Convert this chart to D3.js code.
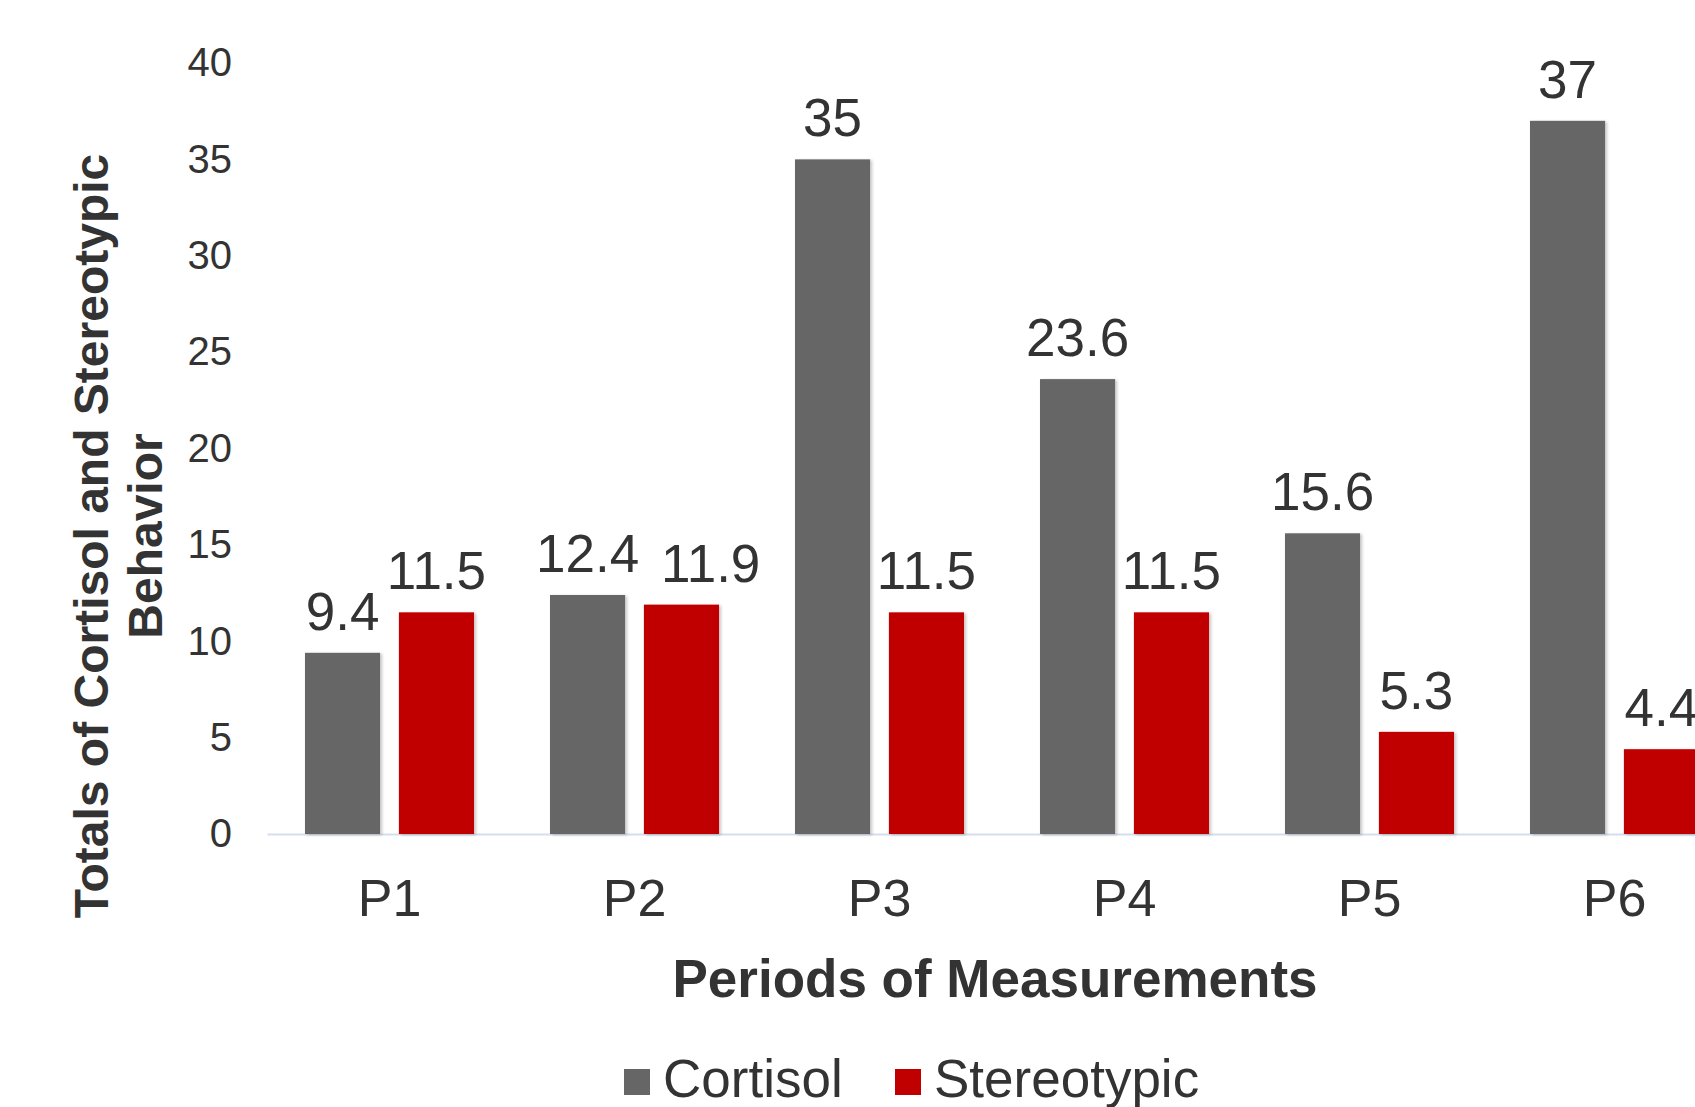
<!DOCTYPE html>
<html>
<head>
<meta charset="utf-8">
<script src="https://cdn.jsdelivr.net/npm/d3@7"></script>
<style>
  body { margin: 0; overflow: hidden; background: #fff; }
  text { font-family: "Liberation Sans", Arial, sans-serif; fill: #333; }
</style>
</head>
<body>
<script>
var periods = ["P1", "P2", "P3", "P4", "P5", "P6"];
var seriesNames = ["Cortisol", "Stereotypic"];
var cortisol = [9.4, 12.4, 35, 23.6, 15.6, 37];
var stereotypic = [11.5, 11.9, 11.5, 11.5, 5.3, 4.4];
var yTicks = [0, 5, 10, 15, 20, 25, 30, 35, 40];

var w = 1695;
var h = 1107;

// the plot runs past the right edge of the picture, as in the original
var margin = {top: 63, left: 267, bottom: 273},
    width = 1470,
    height = h - margin.top - margin.bottom;

var x0 = d3.scaleBand()
    .domain(periods)
    .range([0, width])
    .paddingInner(0.31)
    .paddingOuter(0.155);

var x1 = d3.scaleBand()
    .domain(seriesNames)
    .range([0, x0.bandwidth()])
    .paddingInner(0.2);

var y = d3.scaleLinear()
    .domain([0, 40])
    .range([height, 0]);

var z = d3.scaleOrdinal()
    .domain(seriesNames)
    .range(["#666666", "#c00000"]);

var data = periods.map(function(p, i) {
    return {period: p, Cortisol: cortisol[i], Stereotypic: stereotypic[i]};
});

var svg = d3.select("body").append("svg")
    .attr("width", w)
    .attr("height", h);

var defs = svg.append("defs");
defs.append("filter")
    .attr("id", "shadow")
    .attr("x", "-10%").attr("y", "-10%")
    .attr("width", "130%").attr("height", "130%")
    .append("feDropShadow")
    .attr("dx", 2).attr("dy", 1)
    .attr("stdDeviation", 1.5)
    .attr("flood-color", "#000")
    .attr("flood-opacity", 0.22);

var chart = svg.append("g")
    .attr("transform", "translate(" + margin.left + "," + margin.top + ")");

// y axis (labels only)
var yAxis = chart.append("g")
    .call(d3.axisLeft(y).tickValues(yTicks).tickSize(0).tickPadding(35));
yAxis.select(".domain").remove();
yAxis.selectAll("text")
    .style("font-size", "40px")
    .attr("fill", "#333");

// x axis
var xAxis = chart.append("g")
    .attr("transform", "translate(0," + height + ")")
    .call(d3.axisBottom(x0).tickSize(0).tickSizeOuter(0).tickPadding(45));
xAxis.select(".domain")
    .attr("stroke", "#d5dfec")
    .attr("stroke-width", 2);
xAxis.selectAll("text")
    .style("font-size", "52px")
    .attr("fill", "#333");

// bars
var groups = chart.selectAll(".categories")
    .data(data)
    .enter().append("g")
    .attr("class", "categories")
    .attr("transform", function(d) { return "translate(" + x0(d.period) + ",0)"; });

var cells = groups.selectAll(".cell")
    .data(function(d) { return seriesNames.map(function(key) { return {key: key, value: d[key]}; }); })
    .enter().append("g")
    .attr("class", "cell");

cells.append("rect")
    .attr("x", function(d) { return x1(d.key); })
    .attr("y", function(d) { return y(d.value); })
    .attr("width", x1.bandwidth())
    .attr("height", function(d) { return height - y(d.value); })
    .attr("fill", function(d) { return z(d.key); })
    .attr("filter", "url(#shadow)");

var labelSize = 53;
cells.append("text")
    .attr("class", "value-label")
    .attr("x", function(d) { return x1(d.key) + x1.bandwidth() / 2; })
    .attr("y", function(d) { return y(d.value) - 23; })
    .attr("text-anchor", "middle")
    .style("font-size", labelSize + "px")
    .text(function(d) { return d.value; });

// push a label right when it would run into its neighbour (like Excel does)
groups.each(function() {
    var labels = d3.select(this).selectAll(".value-label").nodes();
    for (var i = 1; i < labels.length; i++) {
        var a = labels[i - 1].getBBox(), b = labels[i].getBBox();
        var dy = Math.abs(+labels[i].getAttribute("y") - +labels[i - 1].getAttribute("y"));
        var need = a.x + a.width + 22 - b.x;
        if (dy < labelSize * 0.72 && need > 0) {
            labels[i].setAttribute("x", +labels[i].getAttribute("x") + need);
        }
    }
});

// x axis title
svg.append("text")
    .attr("x", 995)
    .attr("y", 997)
    .attr("text-anchor", "middle")
    .style("font-size", "53px")
    .style("font-weight", "bold")
    .text("Periods of Measurements");

// y axis title, two lines
var yTitle = svg.append("text")
    .attr("transform", "translate(108,536) rotate(-90)")
    .attr("text-anchor", "middle")
    .style("font-size", "48px")
    .style("font-weight", "bold");
yTitle.append("tspan").attr("x", 0).attr("dy", 0).text("Totals of Cortisol and Stereotypic");
yTitle.append("tspan").attr("x", 0).attr("dy", 54).text("Behavior");

// legend
var legendX = [624, 895];
var legend = svg.selectAll(".legend")
    .data(seriesNames)
    .enter().append("g")
    .attr("class", "legend")
    .attr("transform", function(d, i) { return "translate(" + legendX[i] + ",1069)"; });

legend.append("rect")
    .attr("width", 26)
    .attr("height", 26)
    .attr("fill", z);

legend.append("text")
    .attr("x", 39)
    .attr("y", 28)
    .style("font-size", "53px")
    .text(function(d) { return d; });
</script>
</body>
</html>
